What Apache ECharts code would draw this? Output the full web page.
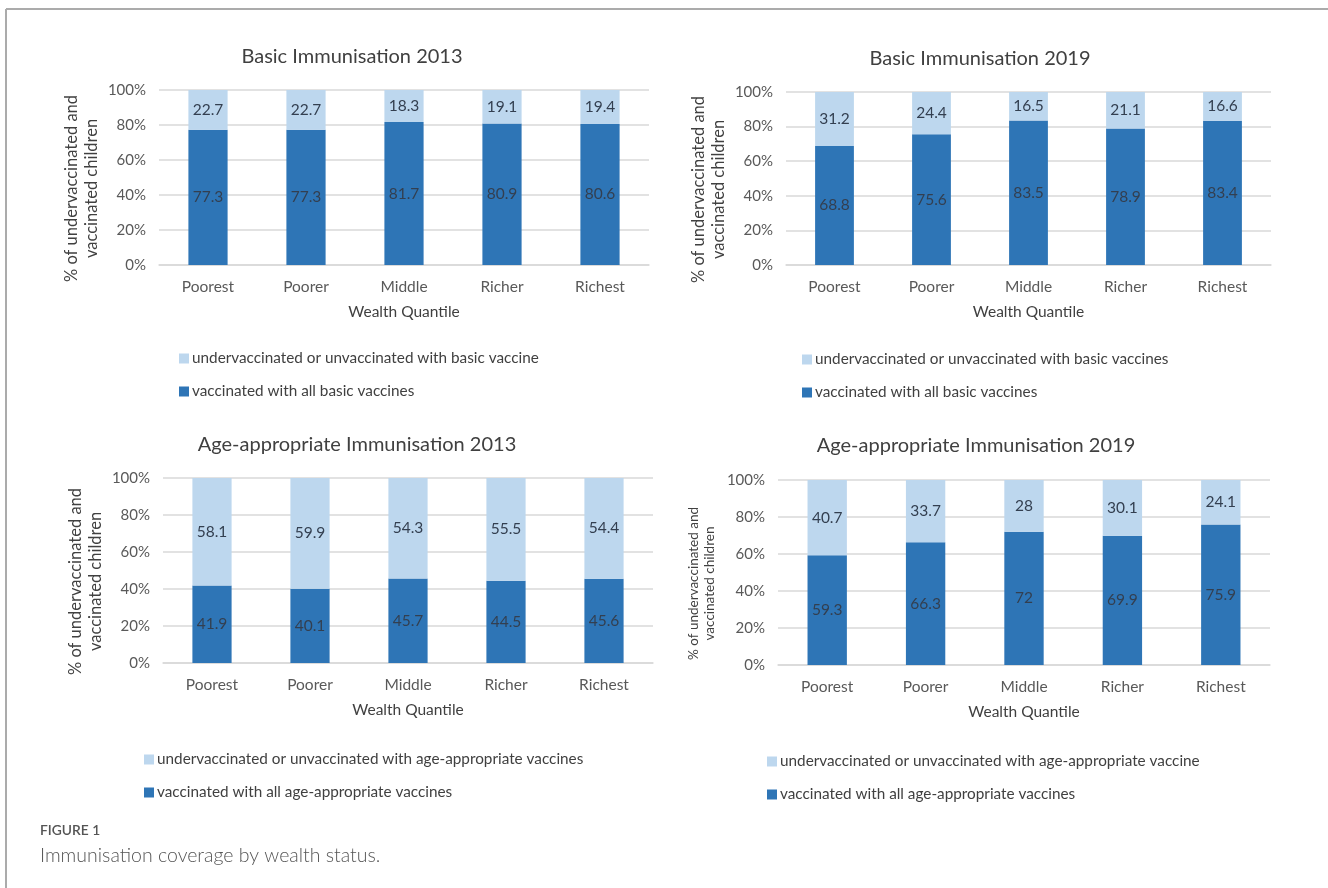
<!DOCTYPE html>
<html>
<head>
<meta charset="utf-8">
<script src="https://cdn.jsdelivr.net/npm/echarts@6/dist/echarts.min.js"></script>
<style>
html,body{margin:0;padding:0;background:#fff;}
#chart{width:1328px;height:888px;}
</style>
</head>
<body>
<div id="chart"></div>
<script>
const categories = ['Poorest', 'Poorer', 'Middle', 'Richer', 'Richest'];
const yTicks = [0, 20, 40, 60, 80, 100];

const basic2013Vaccinated = [77.3, 77.3, 81.7, 80.9, 80.6];
const basic2013Under = [22.7, 22.7, 18.3, 19.1, 19.4];
const basic2019Vaccinated = [68.8, 75.6, 83.5, 78.9, 83.4];
const basic2019Under = [31.2, 24.4, 16.5, 21.1, 16.6];
const age2013Vaccinated = [41.9, 40.1, 45.7, 44.5, 45.6];
const age2013Under = [58.1, 59.9, 54.3, 55.5, 54.4];
const age2019Vaccinated = [59.3, 66.3, 72, 69.9, 75.9];
const age2019Under = [40.7, 33.7, 28, 30.1, 24.1];

const titles = ['Basic Immunisation 2013', 'Basic Immunisation 2019',
  'Age-appropriate Immunisation 2013', 'Age-appropriate Immunisation 2019'];
const underNames = ['undervaccinated or unvaccinated with basic vaccine',
  'undervaccinated or unvaccinated with basic vaccines',
  'undervaccinated or unvaccinated with age-appropriate vaccines',
  'undervaccinated or unvaccinated with age-appropriate vaccine'];
const vaccNames = ['vaccinated with all basic vaccines', 'vaccinated with all basic vaccines',
  'vaccinated with all age-appropriate vaccines', 'vaccinated with all age-appropriate vaccines'];
const yAxisName = '% of undervaccinated and\nvaccinated children';
const xAxisName = 'Wealth Quantile';

const vaccData = [basic2013Vaccinated, basic2019Vaccinated, age2013Vaccinated, age2019Vaccinated];
const underData = [basic2013Under, basic2019Under, age2013Under, age2019Under];

const DARK = '#2E75B6';
const LIGHT = '#BDD7EE';
const FONT = 'Lato, "Open Sans", sans-serif';
const TXT = '#404040';
const TICK = '#595959';

const layout = [
  {grid: {left: 159, top: 90, width: 490, height: 175}, titleX: 347, titleY: 42, legend: {left: 174, top: 346}, nameGap: 58, yNameSize: 16.5},
  {grid: {left: 786, top: 92, width: 485, height: 173}, titleX: 975, titleY: 44, legend: {left: 797, top: 347}, nameGap: 58, yNameSize: 16.5},
  {grid: {left: 163, top: 478, width: 490, height: 185}, titleX: 352, titleY: 430, legend: {left: 139, top: 747}, nameGap: 58, yNameSize: 16.5},
  {grid: {left: 778, top: 480, width: 492, height: 185}, titleX: 971, titleY: 431, legend: {left: 762, top: 749}, nameGap: 60, yNameSize: 13.5}
];

const option = {
  backgroundColor: '#fff',
  animation: false,
  textStyle: {fontFamily: FONT},
  title: layout.map((l, i) => ({
    text: titles[i], left: l.titleX, top: l.titleY, textAlign: 'center',
    textStyle: {fontFamily: FONT, fontSize: 20, fontWeight: 'normal', color: TXT}
  })),
  legend: layout.map((l, i) => ({
    orient: 'vertical', left: l.legend.left, top: l.legend.top,
    itemWidth: 10, itemHeight: 10, itemGap: 18, icon: 'rect',
    data: [underNames[i], vaccNames[i]],
    textStyle: {fontFamily: FONT, fontSize: 15.3, color: TXT, padding: [0, 0, 0, -2]},
    selectedMode: false
  })),
  grid: layout.map(l => Object.assign({containLabel: false}, l.grid)),
  xAxis: layout.map((l, i) => ({
    type: 'category', gridIndex: i, data: categories,
    axisLine: {lineStyle: {color: '#D9D9D9', width: 1.5}},
    axisTick: {show: false},
    axisLabel: {fontFamily: FONT, fontSize: 15.5, color: TICK, margin: 14},
    name: xAxisName, nameLocation: 'middle', nameGap: 39,
    nameTextStyle: {fontFamily: FONT, fontSize: 15.5, color: TXT}
  })),
  yAxis: layout.map((l, i) => ({
    type: 'value', gridIndex: i, min: yTicks[0], max: yTicks[yTicks.length - 1], interval: 20,
    axisLine: {show: false}, axisTick: {show: false},
    splitLine: {lineStyle: {color: '#D9D9D9', width: 1.5}},
    axisLabel: {fontFamily: FONT, fontSize: 15, color: TICK, margin: 13, formatter: '{value}%'},
    name: yAxisName, nameLocation: 'middle', nameRotate: 90, nameGap: l.nameGap,
    nameTextStyle: {fontFamily: FONT, fontSize: l.yNameSize, color: TXT, lineHeight: l.yNameSize + 3, align: 'center', padding: [0, 0, 0, -22]}
  })),
  series: []
};

for (let i = 0; i < 4; i++) {
  option.series.push({
    name: vaccNames[i], type: 'bar', stack: 's' + i, xAxisIndex: i, yAxisIndex: i,
    data: vaccData[i], barWidth: '40%',
    itemStyle: {color: DARK},
    label: {show: true, position: 'inside', fontFamily: FONT, fontSize: 15.5, color: '#333F50'}
  });
  option.series.push({
    name: underNames[i], type: 'bar', stack: 's' + i, xAxisIndex: i, yAxisIndex: i,
    data: underData[i], barWidth: '40%',
    itemStyle: {color: LIGHT},
    label: {show: true, position: 'inside', fontFamily: FONT, fontSize: 15.5, color: '#333F50'}
  });
}

option.graphic = [
  {type: 'line', shape: {x1: 6, y1: 9, x2: 1328, y2: 9}, style: {stroke: '#ABABAB', lineWidth: 2}},
  {type: 'line', shape: {x1: 6, y1: 9, x2: 6, y2: 888}, style: {stroke: '#ABABAB', lineWidth: 2}},
  {type: 'text', left: 40, top: 824, style: {text: 'FIGURE 1', font: '600 13.8px ' + FONT, fill: '#555555'}},
  {type: 'text', left: 40, top: 846, style: {text: 'Immunisation coverage by wealth status.', font: '300 19.5px ' + FONT, fill: '#555555'}}
];

const chart = echarts.init(document.getElementById('chart'), null, {renderer: 'canvas'});
chart.setOption(option);
</script>
</body>
</html>
